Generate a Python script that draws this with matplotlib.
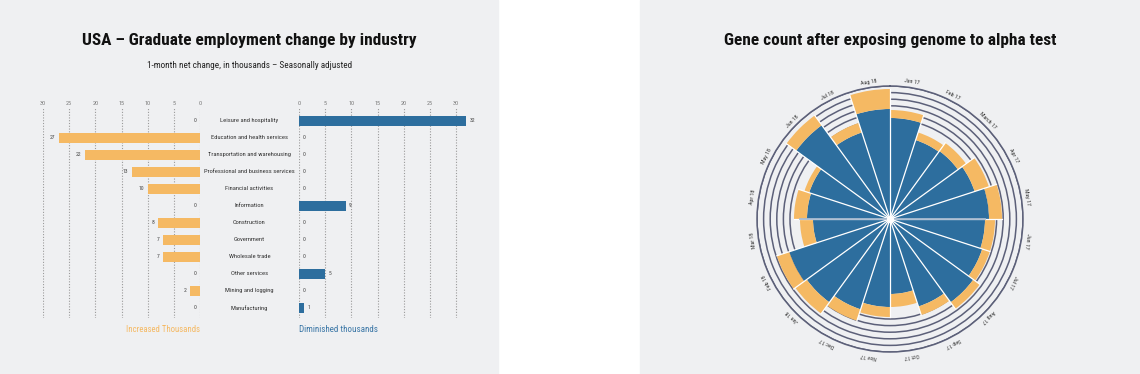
import numpy as np
import matplotlib
matplotlib.use("Agg")
import matplotlib.pyplot as plt
from matplotlib.patches import Rectangle

# ---- data: employment change by industry ----
industries = ["Leisure and hospitality", "Education and health services",
              "Transportation and warehousing", "Professional and business services",
              "Financial activities", "Information", "Construction", "Government",
              "Wholesale trade", "Other services", "Mining and logging", "Manufacturing"]
increased = [0, 27, 22, 13, 10, 0, 8, 7, 7, 0, 2, 0]
diminished = [32, 0, 0, 0, 0, 9, 0, 0, 0, 5, 0, 1]
emp_ticks = [0, 5, 10, 15, 20, 25, 30]

# ---- data: gene count (polar) ----
months = ["Jan 17", "Feb 17", "March 17", "Apr 17", "May 17", "Jun 17", "Jul 17",
          "Aug 17", "Sep 17", "Oct 17", "Nov 17", "Dec 17", "Jan 18", "Feb 18",
          "Mar 18", "Apr 18", "May 18", "Jun 18", "Jul 18", "Aug 18"]
gene_base = [101, 83, 84, 89, 99, 95, 97, 103, 92, 75, 88, 95, 103, 106, 77, 83, 85, 116, 91, 110]
gene_extra = [8, 8, 10, 15, 13, 10, 8, 8, 9, 13, 10, 12, 14, 13, 13, 13, 5, 12, 10, 20]
gene_rings = [100, 106.6, 113.2, 119.8, 126.4, 133]

ORANGE = "#f5b963"
BLUE = "#2d6e9e"
BG = "#eff0f2"
plt.rcParams["font.family"] = ["Roboto Condensed", "Open Sans Condensed",
                               "Noto Sans Condensed", "Liberation Sans Narrow",
                               "Roboto", "DejaVu Sans"]
plt.rcParams["font.stretch"] = "condensed"

W, H = 1140, 374
fig = plt.figure(figsize=(W / 100, H / 100), dpi=100)
fig.patch.set_facecolor("white")


def box(x0, y0, x1, y1):
    return [x0 / W, 1 - y1 / H, (x1 - x0) / W, (y1 - y0) / H]


def size_for(s, target_px, **kw):
    # font size that makes string s about target_px wide
    t = fig.text(0, 0, s, fontsize=10, **kw)
    w = t.get_window_extent(fig.canvas.get_renderer()).width
    t.remove()
    return 10 * target_px / w


# panel backgrounds
fig.patches.append(Rectangle((0, 0), 498 / W, 1, transform=fig.transFigure,
                             color=BG, zorder=-10))
fig.patches.append(Rectangle((640 / W, 0), 500 / W, 1, transform=fig.transFigure,
                             color=BG, zorder=-10))

# ---------------- left panel ----------------
title_l = "USA \u2013 Graduate employment change by industry"
fig.text(249 / W, 1 - 41 / H, title_l, ha="center", va="center",
         fontsize=size_for(title_l, 332, fontweight="bold"), fontweight="bold", color="#111")
sub_l = "1-month net change, in thousands \u2013 Seasonally adjusted"
fig.text(250 / W, 1 - 66 / H, sub_l, ha="center", va="center",
         fontsize=size_for(sub_l, 203), color="#222")

n = len(industries)
ypos = np.arange(n)
unit = 157 / 30
ax_l = fig.add_axes(box(43, 108, 200, 318))
ax_r = fig.add_axes(box(299, 108, 299 + 34 * unit, 318))

ax_l.barh(ypos, increased, height=0.6, color=ORANGE)
ax_r.barh(ypos, diminished, height=0.6, color=BLUE)
ax_l.set_xlim(30, 0)
ax_r.set_xlim(0, 34)

tick_fs = size_for("30", 6)
for ax in (ax_l, ax_r):
    ax.set_ylim(n - 1 + 0.6, -0.76)
    ax.set_facecolor("none")
    ax.set_xticks(emp_ticks)
    ax.xaxis.tick_top()
    ax.tick_params(axis="x", length=0, labelsize=tick_fs, labelcolor="#777", pad=1.5)
    ax.set_yticks([])
    ax.grid(axis="x", ls=(0, (1, 1.5)), color="#9a9a9a", lw=0.8)
    ax.set_axisbelow(True)
    for s in ax.spines.values():
        s.set_visible(False)

val_fs = size_for("32", 5.5)
for i, v in enumerate(increased):
    ax_l.text(v + 0.65, i, str(v), ha="right", va="center", fontsize=val_fs, color="#444")
for i, v in enumerate(diminished):
    ax_r.text(v + 0.6, i, str(v), ha="left", va="center", fontsize=val_fs, color="#444")
cat_fs = size_for(max(industries, key=len), 90)
for i, name in enumerate(industries):
    ax_l.annotate(name, xy=(249.5 / W, i), xycoords=("figure fraction", "data"),
                  ha="center", va="center", fontsize=cat_fs, color="#333",
                  annotation_clip=False)

fig.text(200 / W, 1 - 330 / H, "Increased Thousands", ha="right", va="center",
         fontsize=size_for("Increased Thousands", 74), color=ORANGE)
fig.text(299 / W, 1 - 330 / H, "Diminished thousands", ha="left", va="center",
         fontsize=size_for("Diminished thousands", 79), color="#3a76a6")

# ---------------- right panel ----------------
title_r = "Gene count after exposing genome to alpha test"
fig.text(890 / W, 1 - 41 / H, title_r, ha="center", va="center",
         fontsize=size_for(title_r, 330, fontweight="bold"), fontweight="bold", color="#111")

R = gene_rings[-1]
ax_p = fig.add_axes(box(890 - R, 219 - R, 890 + R, 219 + R), projection="polar")
ax_p.set_facecolor("none")
ax_p.set_theta_zero_location("N")
ax_p.set_theta_direction(-1)
step = 2 * np.pi / len(months)
theta = np.arange(len(months)) * step
totals = np.array(gene_base) + np.array(gene_extra)

ax_p.bar(theta, gene_base, width=step, align="edge", color=BLUE, lw=0, zorder=3)
ax_p.bar(theta, gene_extra, bottom=gene_base, width=step, align="edge",
         color=ORANGE, lw=0, zorder=3)
# white separators between wedges
for k in range(len(months)):
    reach = max(totals[k], totals[k - 1])
    ax_p.plot([theta[k], theta[k]], [0, reach], color="white", lw=0.9, zorder=4)
# light horizontal axis line through the centre
ax_p.plot([np.pi / 2] * 2, [0, gene_base[5]], color="#a8bbd0", lw=1.3, zorder=4)
ax_p.plot([3 * np.pi / 2] * 2, [0, totals[14]], color="#a8bbd0", lw=1.3, zorder=4)
ax_p.scatter([0], [0], s=28, color="white", zorder=6, lw=0)

ax_p.set_ylim(0, R)
ax_p.set_yticks(gene_rings)
ax_p.set_yticklabels([])
ax_p.yaxis.grid(True, color="#5c6079", lw=1.1)
ax_p.set_xticks([])
ax_p.xaxis.grid(False)
ax_p.spines["polar"].set_color("#5c6079")
ax_p.spines["polar"].set_linewidth(1.1)

month_fs = size_for("Aug 18", 16)
for k, m in enumerate(months):
    a = theta[k] + step / 2
    ax_p.text(a, R + 5.5, m, rotation=-np.degrees(a), rotation_mode="anchor",
              ha="center", va="center", fontsize=month_fs, color="#333")

fig.savefig("out.png", dpi=100, facecolor=fig.get_facecolor())
